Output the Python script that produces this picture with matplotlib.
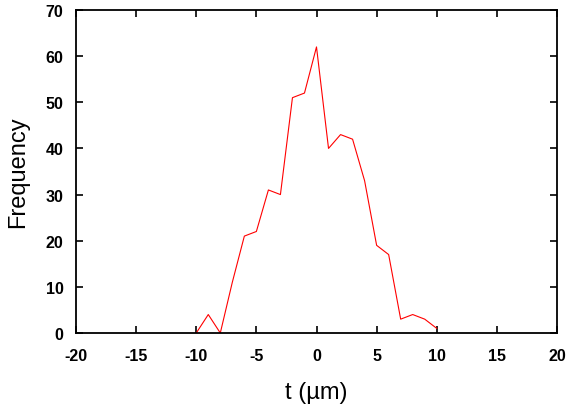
#!/usr/bin/env python3
import numpy as np
import matplotlib
matplotlib.use('Agg')
import matplotlib.pyplot as plt

# histogram of t values
t = [-10, -9, -8, -7, -6, -5, -4, -3, -2, -1, 0, 1, 2, 3, 4, 5, 6, 7, 8, 9, 10]
freq = [0, 4, 0, 11, 21, 22, 31, 30, 51, 52, 62, 40, 43, 42, 33, 19, 17, 3, 4, 3, 1]
xticks = [-20, -15, -10, -5, 0, 5, 10, 15, 20]
yticks = [0, 10, 20, 30, 40, 50, 60, 70]

plt.rcParams['font.family'] = ['Liberation Sans', 'DejaVu Sans']
plt.rcParams['axes.unicode_minus'] = False

fig = plt.figure(figsize=(5.72, 4.10), dpi=100)
ax = fig.add_axes([76/572, 1-334/410, (557-76)/572, (334-11)/410])

ax.plot(t, freq, color='red', lw=0.8)

ax.set_xlim(-20, 20)
ax.set_ylim(0, 70)
ax.set_xticks(xticks)
ax.set_yticks(yticks)
ax.tick_params(direction='in', top=True, right=True, length=5, width=1.2,
               labelsize=11.5)
ax.tick_params(axis='x', pad=11)
ax.tick_params(axis='y', pad=9)
for lab in ax.get_xticklabels() + ax.get_yticklabels():
    lab.set_fontweight('bold')
for s in ax.spines.values():
    s.set_linewidth(1.3)

ax.set_xlabel('t (\u00b5m)', fontsize=17, labelpad=13)
ax.set_ylabel('Frequency', fontsize=17, labelpad=12)

fig.savefig('out.png', dpi=100)
